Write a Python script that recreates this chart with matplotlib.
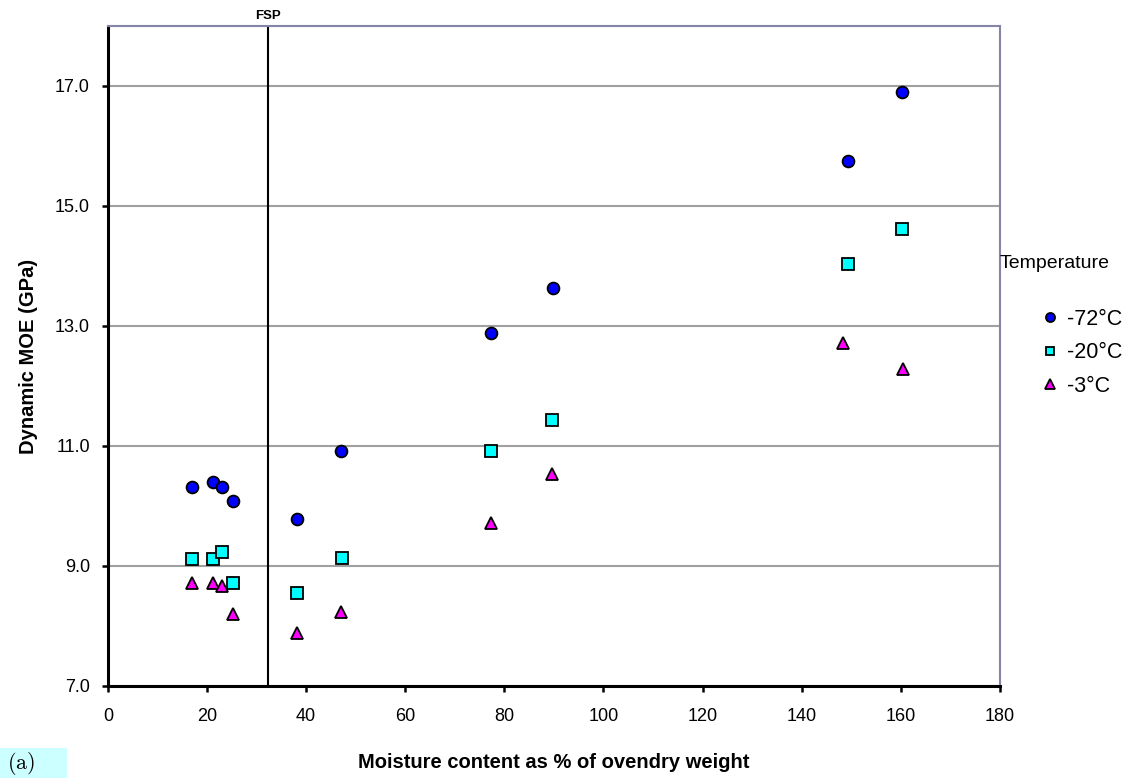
import matplotlib
matplotlib.use('Agg')
import matplotlib.pyplot as plt
from matplotlib.lines import Line2D
from matplotlib.patches import Rectangle

plt.rcParams['font.family'] = ['Liberation Sans', 'DejaVu Sans']
plt.rcParams['mathtext.fontset'] = 'cm'

# Moisture content (% of ovendry weight) for each specimen
moisture_72 = [16.9, 21.2, 23.1, 25.3, 38.2, 47.0, 77.3, 89.9, 149.4, 160.3]
moe_72 = [10.31, 10.40, 10.31, 10.08, 9.79, 10.92, 12.88, 13.64, 15.75, 16.90]

moisture_20 = [16.9, 21.2, 23.1, 25.3, 38.2, 47.2, 77.3, 89.6, 149.4, 160.3]
moe_20 = [9.11, 9.11, 9.23, 8.71, 8.55, 9.13, 10.92, 11.44, 14.03, 14.61]

moisture_3 = [16.9, 21.2, 23.0, 25.3, 38.2, 47.0, 77.3, 89.6, 148.4, 160.4]
moe_3 = [8.72, 8.71, 8.67, 8.20, 7.89, 8.24, 9.72, 10.53, 12.72, 12.28]

labels = ['-72°C', '-20°C', '-3°C']
fsp = 32.3

fig = plt.figure(figsize=(11.4, 7.78), dpi=100)
ax = fig.add_axes([0.0947, 0.1183, 0.877 - 0.0947, 0.9666 - 0.1183])

edge = dict(markeredgecolor='black', markeredgewidth=1.3, linestyle='none')
ax.plot(moisture_72, moe_72, marker='o', markersize=8.5, markerfacecolor='#0000ff', **edge)
ax.plot(moisture_20, moe_20, marker='s', markersize=8, markerfacecolor='#00ffff', **edge)
ax.plot(moisture_3, moe_3, marker='^', markersize=8.5, markerfacecolor='#ff00ff', **edge)

# fibre saturation point
ax.plot([fsp, fsp], [7, 18], color='black', linewidth=1.5, zorder=1)
ax.text(fsp, 18.06, 'FSP', ha='center', va='bottom', fontsize=9.5, fontweight='bold')

ax.set_xlim(0, 180)
ax.set_ylim(7, 18)
ax.set_xticks(range(0, 181, 20))
ax.set_yticks([7, 9, 11, 13, 15, 17])
ax.set_yticklabels(['%.1f' % v for v in [7, 9, 11, 13, 15, 17]])
ax.yaxis.grid(True, color='#a0a0a0', linewidth=1.5)
ax.set_axisbelow(True)

ax.spines['left'].set_linewidth(2.2)
ax.spines['bottom'].set_linewidth(2.2)
for side in ['top', 'right']:
    ax.spines[side].set_color('#8484a8')
    ax.spines[side].set_linewidth(1.5)
ax.tick_params(axis='both', direction='out', length=4, width=1.8, labelsize=13)
ax.tick_params(axis='x', pad=12)
ax.tick_params(axis='y', pad=9)

ax.set_xlabel('Moisture content as % of ovendry weight', fontsize=14.5, fontweight='bold', labelpad=20)
ax.set_ylabel('Dynamic MOE (GPa)', fontsize=14.5, fontweight='bold', labelpad=12)

# legend outside the plot on the right
fig.text(1000 / 1140, 1 - 264 / 778, 'Temperature', fontsize=14, ha='left', va='center')
handles = [
    Line2D([], [], marker='o', markersize=6.5, markerfacecolor='#0000ff', **edge),
    Line2D([], [], marker='s', markersize=6, markerfacecolor='#00ffff', **edge),
    Line2D([], [], marker='^', markersize=6.5, markerfacecolor='#ff00ff', **edge),
]
fig.legend(handles, labels, loc='upper left', bbox_to_anchor=(1040 / 1140, 1 - 309 / 778),
           frameon=False, fontsize=15.5, handlelength=0.9, handletextpad=0.35,
           labelspacing=0.58, borderaxespad=0, borderpad=0)

fig.patches.append(Rectangle((0, 0), 67 / 1140, 30 / 778, transform=fig.transFigure,
                             facecolor='#ccffff', edgecolor='none'))
fig.text(7 / 1140, 1 / 778, r'$\mathrm{(a)}$', fontsize=16, ha='left', va='bottom')

fig.savefig('out.png', dpi=100)
